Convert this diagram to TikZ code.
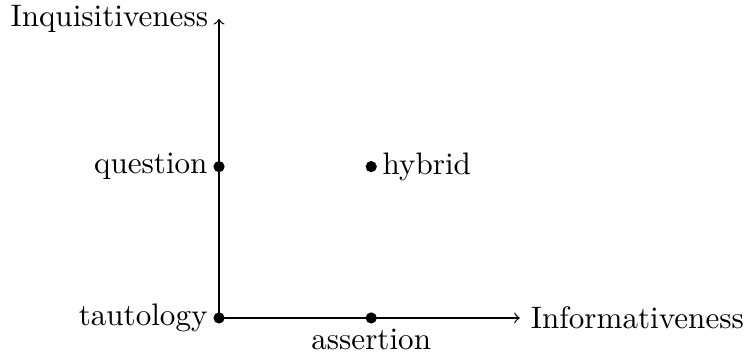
\documentclass[tikz,border=0pt]{standalone}
\usepackage{amsmath,amssymb}
\usepackage{tikz}
\usetikzlibrary{positioning}

\tikzset{
  pt/.style={circle, fill=black, inner sep=0pt, minimum size=3.6pt},
  lbl/.style={inner sep=1.5pt}
}

\begin{document}
\begin{tikzpicture}
  \useasboundingbox (-2.475,-0.452) rectangle (5.955,3.593);

  % points
  \node[pt] (taut) at (0,0) {};
  \node[pt] (quest) at (0,1.71) {};
  \node[pt] (hyb) at (1.72,1.71) {};
  \node[pt] (assert) at (1.72,0) {};

  % axes
  \coordinate (xend) at (3.40,0);
  \coordinate (yend) at (0,3.38);
  \draw[->] (taut.center) -- (xend);
  \draw[->] (taut.center) -- (yend);

  \node[anchor=west] (xlab) at (xend) {Informativeness};
  \node[anchor=east] (ylab) at (yend) {Inquisitiveness};

  \node[lbl, left=0pt of taut] (tautlab) {tautology};
  \node[lbl, below=0pt of assert] (assertlab) {assertion};
  \node[lbl, left=0pt of quest] (questlab) {question};
  \node[lbl, right=0pt of hyb] (hyblab) {hybrid};
\end{tikzpicture}
\end{document}
